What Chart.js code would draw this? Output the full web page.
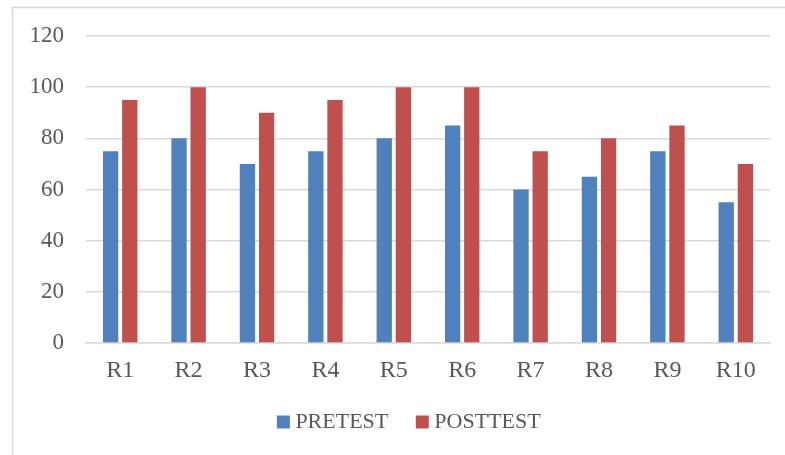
<!DOCTYPE html>
<html><head><meta charset="utf-8">
<script src="https://cdn.jsdelivr.net/npm/chart.js@4"></script>
<style>html,body{margin:0;padding:0;background:#fff;}#wrap{width:785px;height:455px;}</style>
</head><body><div id="wrap"><canvas id="c" width="785" height="455"></canvas></div>
<script>
const categories = ["R1","R2","R3","R4","R5","R6","R7","R8","R9","R10"];
const pretest = [75,80,70,75,80,85,60,65,75,55];
const posttest = [95,100,90,95,100,100,75,80,85,70];
const seriesNames = ["PRETEST","POSTTEST"];

const frame = {
  id:'frame',
  beforeDraw(chart){
    const ctx = chart.ctx;
    ctx.save();
    ctx.fillStyle='#fff';
    ctx.fillRect(0,0,chart.width,chart.height);
    ctx.strokeStyle='#D9D9D9';
    ctx.lineWidth=1.5;
    ctx.strokeRect(12.5,7.5,900,600);
    ctx.restore();
  },
  afterLayout(chart){
    const lg = chart.legend;
    const h = lg.bottom - lg.top;
    lg.left = 53; lg.right = 770;
    lg.top = 378; lg.bottom = 378 + h;
  }
};

new Chart(document.getElementById('c'),{
  type:'bar',
  data:{labels:categories,datasets:[
    {label:seriesNames[0],data:pretest,backgroundColor:'#4F81BD',categoryPercentage:0.56,barPercentage:0.8},
    {label:seriesNames[1],data:posttest,backgroundColor:'#C0504D',categoryPercentage:0.56,barPercentage:0.8}
  ]},
  options:{
    responsive:false,animation:false,devicePixelRatio:1,
    layout:{padding:{left:0,right:15,top:36,bottom:0}},
    plugins:{
      legend:{position:'bottom',labels:{font:{family:'Liberation Serif',size:22},color:'#595959',usePointStyle:true,pointStyle:'rect',boxWidth:2,boxHeight:13,padding:33}},
      tooltip:{enabled:false}
    },
    scales:{
      x:{grid:{display:false},border:{color:'#D9D9D9',width:1.5},
         ticks:{font:{family:'Liberation Serif',size:24},color:'#595959',padding:5},
         afterFit(s){s.height=47;}},
      y:{min:0,max:120,grid:{color:'#D9D9D9',lineWidth:1.5,drawTicks:false},border:{display:false},
         ticks:{stepSize:20,font:{family:'Liberation Serif',size:23},color:'#595959',padding:22},
         afterFit(s){s.width=86;}}
    }
  },
  plugins:[frame]
});
</script></body></html>
